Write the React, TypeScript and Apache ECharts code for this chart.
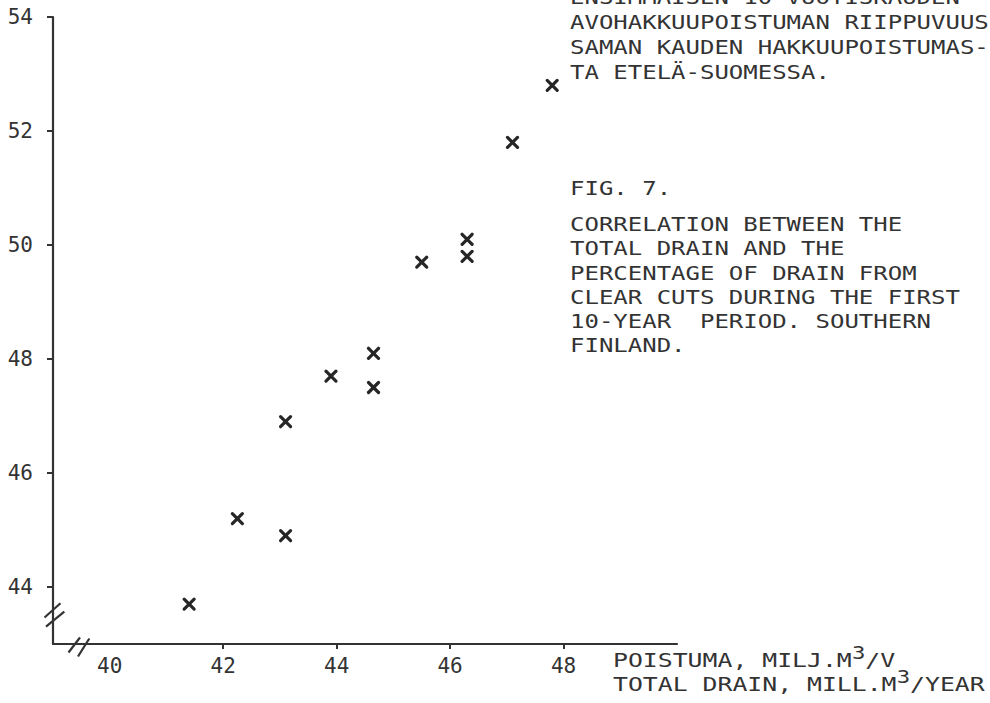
import React, { useEffect, useRef } from "react";
import * as echarts from "echarts";

// Data
const totalDrain = [41.4, 42.25, 43.1, 43.1, 43.9, 44.65, 44.65, 45.5, 46.3, 46.3, 47.1, 47.8];
const clearCutShare = [43.7, 45.2, 44.9, 46.9, 47.7, 48.1, 47.5, 49.7, 50.1, 49.8, 51.8, 52.8];
const xTickLabels = [40, 42, 44, 46, 48];
const xTickMarks = [42, 44, 46, 48];
const yTickLabels = [44, 46, 48, 50, 52, 54];

const finnishCaption = [
  "ENSIMMÄISEN 10-VUOTISKAUDEN",
  "AVOHAKKUUPOISTUMAN RIIPPUVUUS",
  "SAMAN KAUDEN HAKKUUPOISTUMAS-",
  "TA ETELÄ-SUOMESSA.",
];
const figLabel = "FIG. 7.";
const englishCaption = [
  "CORRELATION BETWEEN THE",
  "TOTAL DRAIN AND THE",
  "PERCENTAGE OF DRAIN FROM",
  "CLEAR CUTS DURING THE FIRST",
  "10-YEAR  PERIOD. SOUTHERN",
  "FINLAND.",
];
// [before superscript, superscript, after]
const xAxisTitle = [
  ["POISTUMA, MILJ.M", "3", "/V"],
  ["TOTAL DRAIN, MILL.M", "3", "/YEAR"],
];

const FONT = '"DejaVu Sans Mono", monospace';
const INK = "#333333";
const MARK = "#262626";

function textEl(text: string, x: number, y: number, rich?: any, scaleX = 1.2) {
  const style: any = {
    text,
    fill: INK,
    fontSize: 20,
    fontFamily: FONT,
    textAlign: "left",
    align: "left",
    textVerticalAlign: "middle",
    verticalAlign: "middle",
  };
  if (rich) style.rich = rich;
  return {
    type: "text",
    x,
    y,
    scaleX,
    silent: true,
    style,
  };
}

function lineEl(x1: number, y1: number, x2: number, y2: number) {
  return {
    type: "line",
    silent: true,
    shape: { x1, y1, x2, y2 },
    style: { stroke: INK, lineWidth: 2.2 },
  };
}

export default function App() {
  const ref = useRef<HTMLDivElement>(null);

  useEffect(() => {
    if (!ref.current) return;
    const chart = echarts.init(ref.current, undefined, { renderer: "svg" });

    const points = totalDrain.map((x, i) => [x, clearCutShare[i]]);

    const titleRich = {
      a: { fontSize: 20, fontFamily: FONT, fill: INK, color: INK, lineHeight: 32 },
      s: {
        fontSize: 18,
        fontFamily: FONT,
        fill: INK,
        color: INK,
        lineHeight: 18,
        padding: [0, 0, 14, 0],
      },
    };

    const graphics: any[] = [];
    finnishCaption.forEach((t, i) => graphics.push(textEl(t, 570, -3 + i * 25)));
    graphics.push(textEl(figLabel, 570, 188));
    englishCaption.forEach((t, i) => graphics.push(textEl(t, 570, 224 + i * 24.2)));
    xAxisTitle.forEach((parts, i) =>
      graphics.push(
        textEl(`{a|${parts[0]}}{s|${parts[1]}}{a|${parts[2]}}`, 613, 660 + i * 24, titleRich, 1.24)
      )
    );
    // axis break marks
    graphics.push(lineEl(44.5, 617.5, 60.5, 603.3));
    graphics.push(lineEl(46, 626.7, 64.3, 611.7));
    graphics.push(lineEl(68.5, 652.5, 80, 637.5));
    graphics.push(lineEl(78, 656.5, 89.3, 638.5));

    chart.setOption({
      animation: false,
      backgroundColor: "#ffffff",
      grid: { left: 53, top: 17, width: 624, height: 627, containLabel: false },
      xAxis: {
        type: "value",
        min: 39,
        max: 50,
        splitLine: { show: false },
        axisLine: { show: true, lineStyle: { color: INK, width: 2.2 } },
        axisTick: {
          show: true,
          customValues: xTickMarks,
          length: 5,
          inside: false,
          lineStyle: { color: INK, width: 2 },
        },
        axisLabel: {
          show: true,
          customValues: xTickLabels,
          color: INK,
          fontSize: 21,
          fontFamily: FONT,
          margin: 11,
        },
      },
      yAxis: {
        type: "value",
        min: 43,
        max: 54,
        splitLine: { show: false },
        axisLine: { show: true, lineStyle: { color: INK, width: 2.2 } },
        axisTick: {
          show: true,
          customValues: yTickLabels,
          length: 6,
          inside: false,
          lineStyle: { color: INK, width: 2 },
        },
        axisLabel: {
          show: true,
          customValues: yTickLabels,
          color: INK,
          fontSize: 21,
          fontFamily: FONT,
          margin: 20,
        },
      },
      series: [
        {
          type: "custom",
          data: points,
          renderItem: (params: any, api: any) => {
            const p = api.coord([api.value(0), api.value(1)]);
            const s = 5;
            const st = { stroke: MARK, lineWidth: 3.2, lineCap: "round" };
            return {
              type: "group",
              children: [
                {
                  type: "line",
                  shape: { x1: p[0] - s, y1: p[1] - s, x2: p[0] + s, y2: p[1] + s },
                  style: st,
                },
                {
                  type: "line",
                  shape: { x1: p[0] - s, y1: p[1] + s, x2: p[0] + s, y2: p[1] - s },
                  style: st,
                },
              ],
            };
          },
        },
      ],
      graphic: graphics,
    });

    return () => chart.dispose();
  }, []);

  return (
    <div
      ref={ref}
      style={{ position: "absolute", left: 0, top: 0, width: 990, height: 703 }}
    />
  );
}
